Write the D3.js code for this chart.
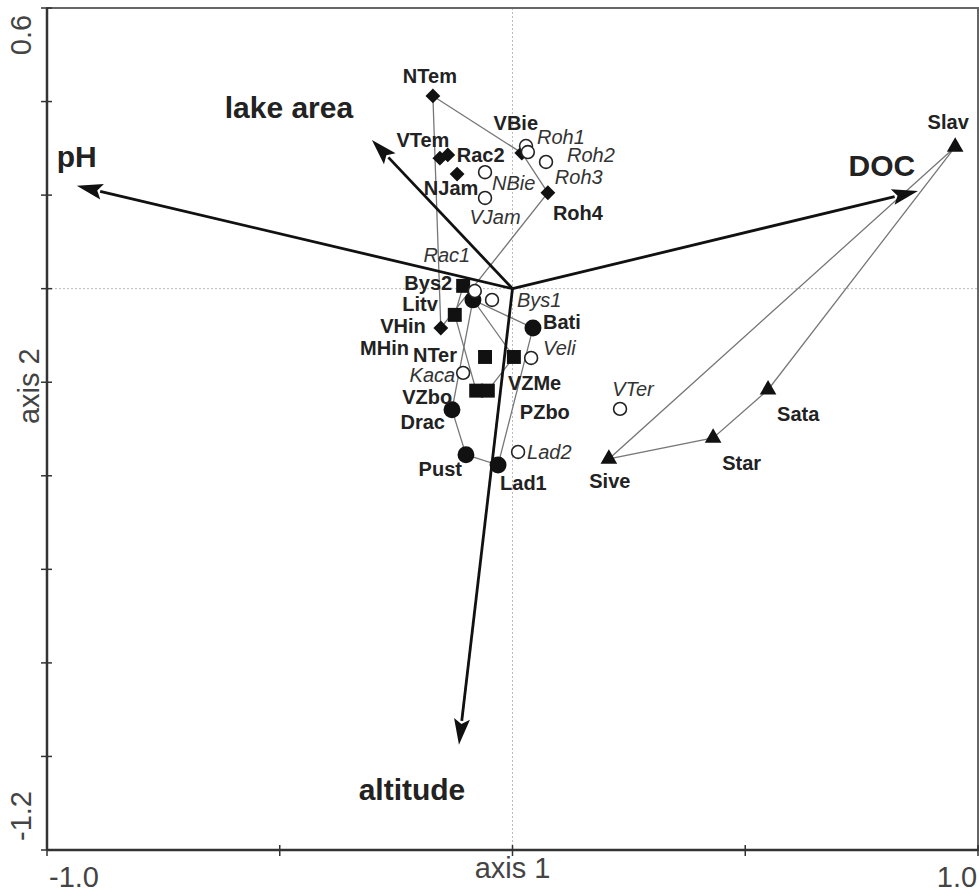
<!DOCTYPE html>
<html>
<head>
<meta charset="utf-8">
<script src="https://cdn.jsdelivr.net/npm/d3@7"></script>
<style>
  body { margin: 0; background: #fff; }
  text { font-family: "Liberation Sans", Arial, sans-serif; }
</style>
</head>
<body>
<div class="chart"></div>
<script>
// site scores (axis 1, axis 2), one list per lake group
const diamonds = [['NTem',-0.171,0.412],['VTem',-0.156,0.279],['Rac2',-0.139,0.286],['NJam',-0.119,0.245],
                  ['VBie',0.020,0.290],['Roh4',0.076,0.205],['VHin',-0.154,-0.084]]
const openCircles = [['Roh1',0.029,0.305],['Roh3',0.033,0.292],['Roh2',0.072,0.271],['NBie',-0.059,0.249],
                     ['VJam',-0.059,0.194],['Rac1',-0.081,-0.005],['Bys1',-0.044,-0.024],['Veli',0.040,-0.148],
                     ['Kaca',-0.106,-0.180],['VTer',0.231,-0.257],['Lad2',0.012,-0.349]]
const squares = [['Bys2',-0.106,0.006],['Litv',-0.124,-0.056],['NTer',-0.059,-0.146],['VZMe',0.003,-0.146],
                 ['VZbo',-0.078,-0.218],['PZbo',-0.053,-0.218]]
const filledCircles = [['MHin',-0.085,-0.024],['Bati',0.044,-0.084],['Drac',-0.130,-0.259],
                       ['Pust',-0.100,-0.355],['Lad1',-0.031,-0.377]]
const triangles = [['Slav',0.951,0.303],['Sata',0.549,-0.216],['Star',0.431,-0.319],['Sive',0.207,-0.364]]

// environmental variables (arrow tips)
const envVars = [['pH',-0.936,0.220],['lake area',-0.302,0.318],['DOC',0.871,0.209],['altitude',-0.115,-0.975]]

// group envelopes (drawn as closed polygons)
const hulls = [['NTem','VBie','Roh4','VHin'],
               ['Bys2','VZMe','PZbo','VZbo','Litv'],
               ['MHin','Bati','Lad1','Pust','Drac'],
               ['Slav','Sata','Star','Sive']]

const xTicks = [-1,-0.5,0,0.5,1]
const yTicks = [0.6,0.4,0.2,0,-0.2,-0.4,-0.6,-0.8,-1.0,-1.2]

// label placement: [dx, dy, anchor] in px
const labelPos = {
  NTem:[-3,-20,'middle'], VTem:[-17,-18,'middle'], Rac2:[9,0,'start'], NJam:[-6,14,'middle'],
  VBie:[-6,-30,'middle'], Roh4:[30,20,'middle'], VHin:[-15,-2,'end'],
  Roh1:[11,-9,'start'], Roh2:[21,-7,'start'], Roh3:[27,25,'start'], NBie:[7,11,'start'],
  VJam:[10,19,'middle'], Rac1:[-28,-36,'middle'], Bys1:[25,0,'start'], Veli:[12,-10,'start'],
  Kaca:[-8,2,'end'], VTer:[13,-20,'middle'], Lad2:[9,0,'start'],
  Bys2:[-11,-3,'end'], Litv:[-17,-11,'end'], NTer:[-28,-2,'end'], VZMe:[-6,26,'start'],
  VZbo:[-24,6,'end'], PZbo:[32,21,'start'],
  MHin:[-64,48,'end'], Bati:[10,-6,'start'], Drac:[-7,12,'end'], Pust:[-4,14,'end'], Lad1:[2,18,'start'],
  Slav:[-7,-25,'middle'], Sata:[9,24,'start'], Star:[9,25,'start'], Sive:[1,22,'middle']
}
const envLabelPos = { 'pH':[0,-29], 'lake area':[-83,-32], 'DOC':[-36,-25], 'altitude':[-47,45] }

const W = 979, H = 892
const mLeft = 47, mRight = 978, mTop = 8, mBottom = 850

const svg = d3.select('.chart').append('svg').attr('width', W).attr('height', H)

const x = d3.scaleLinear().domain([-1, 1]).range([mLeft, mRight])
const y = d3.scaleLinear().domain([0.6, -1.2]).range([mTop, mBottom])

// zero lines
svg.append('line').attr('x1', x(0)).attr('x2', x(0)).attr('y1', mTop).attr('y2', mBottom)
  .attr('stroke', '#bbb').attr('stroke-width', 1).attr('stroke-dasharray', '2,2')
svg.append('line').attr('x1', mLeft).attr('x2', mRight).attr('y1', y(0)).attr('y2', y(0))
  .attr('stroke', '#bbb').attr('stroke-width', 1).attr('stroke-dasharray', '2,2')

// frame
svg.append('rect').attr('x', mLeft).attr('y', mTop).attr('width', mRight - mLeft).attr('height', mBottom - mTop)
  .attr('fill', 'none').attr('stroke', '#666').attr('stroke-width', 2)
svg.append('line').attr('x1', mLeft).attr('x2', mLeft).attr('y1', mTop).attr('y2', mBottom)
  .attr('stroke', '#333').attr('stroke-width', 2.5)
svg.append('line').attr('x1', mLeft).attr('x2', mRight).attr('y1', mBottom).attr('y2', mBottom)
  .attr('stroke', '#333').attr('stroke-width', 2.5)

// ticks crossing the axes
svg.selectAll('.xt').data(xTicks).enter().append('line')
  .attr('x1', d => x(d)).attr('x2', d => x(d)).attr('y1', mBottom - 5).attr('y2', mBottom + 6)
  .attr('stroke', '#333').attr('stroke-width', 1.5)
svg.selectAll('.yt').data(yTicks).enter().append('line')
  .attr('y1', d => y(d)).attr('y2', d => y(d)).attr('x1', mLeft - 6).attr('x2', mLeft + 5)
  .attr('stroke', '#333').attr('stroke-width', 1.5)

// axis texts
const axisText = (t, px, py, rot) => svg.append('text').text(t)
  .attr('transform', `translate(${px},${py}) rotate(${rot})`)
  .attr('text-anchor', 'middle').attr('font-size', 29).attr('fill', '#444')
axisText('-1.0', x(-1) + 27, 887, 0)
axisText('1.0', x(1) - 21, 887, 0)
axisText('axis 1', x(0), 878, 0)
axisText('0.6', 31, y(0.6) + 27, -90)
axisText('-1.2', 31, y(-1.2) - 34, -90)
axisText('axis 2', 39, y(-0.2) + 4, -90)

// envelopes
const allSites = new Map([...diamonds, ...openCircles, ...squares, ...filledCircles, ...triangles].map(d => [d[0], d]))
hulls.forEach(h => {
  const pts = h.map(n => allSites.get(n))
  svg.append('path')
    .attr('d', d3.line().x(d => x(d[1])).y(d => y(d[2]))(pts) + 'Z')
    .attr('fill', 'none').attr('stroke', '#777').attr('stroke-width', 1.3)
})

// arrows
const ox = x(0), oy = y(0)
envVars.forEach(v => {
  const tx = x(v[1]), ty = y(v[2])
  const len = Math.hypot(tx - ox, ty - oy)
  const ux = (tx - ox) / len, uy = (ty - oy) / len
  const hl = 26, hw = 8
  const bx = tx - ux * hl, by = ty - uy * hl
  svg.append('line').attr('x1', ox).attr('y1', oy).attr('x2', bx + ux * 2).attr('y2', by + uy * 2)
    .attr('stroke', '#111').attr('stroke-width', 2.8)
  svg.append('path')
    .attr('d', `M${tx},${ty}L${bx - uy * hw},${by + ux * hw}L${bx + ux * 5},${by + uy * 5}L${bx + uy * hw},${by - ux * hw}Z`)
    .attr('fill', '#111')
  const lp = envLabelPos[v[0]]
  svg.append('text').text(v[0])
    .attr('x', tx + lp[0]).attr('y', ty + lp[1]).attr('dy', '0.35em')
    .attr('text-anchor', 'middle').attr('font-size', 30).attr('font-weight', 'bold').attr('fill', '#222')
})

// markers
const sym = (type, size) => d3.symbol().type(type).size(size)()
const drawGroup = (data, path, fill, stroke, rot) => {
  svg.selectAll(null).data(data).enter().append('path')
    .attr('d', path)
    .attr('transform', d => `translate(${x(d[1])},${y(d[2])}) rotate(${rot})`)
    .attr('fill', fill).attr('stroke', stroke).attr('stroke-width', 1.6)
}
drawGroup(diamonds, sym(d3.symbolSquare, 110), '#111', 'none', 45)
drawGroup(squares, sym(d3.symbolSquare, 195), '#111', 'none', 0)
drawGroup(filledCircles, sym(d3.symbolCircle, 225), '#111', 'none', 0)
drawGroup(triangles, sym(d3.symbolTriangle, 120), '#111', 'none', 0)
drawGroup(openCircles, sym(d3.symbolCircle, 130), '#fff', '#222', 0)

// labels
const drawLabels = (data, italic) => {
  svg.selectAll(null).data(data).enter().append('text')
    .text(d => d[0])
    .attr('x', d => x(d[1]) + labelPos[d[0]][0])
    .attr('y', d => y(d[2]) + labelPos[d[0]][1])
    .attr('dy', '0.35em')
    .attr('text-anchor', d => labelPos[d[0]][2])
    .attr('font-size', 20)
    .attr('font-weight', italic ? 'normal' : 'bold')
    .attr('font-style', italic ? 'italic' : 'normal')
    .attr('fill', italic ? '#333' : '#222')
}
drawLabels(diamonds, false)
drawLabels(squares, false)
drawLabels(filledCircles, false)
drawLabels(triangles, false)
drawLabels(openCircles, true)
</script>
</body>
</html>
